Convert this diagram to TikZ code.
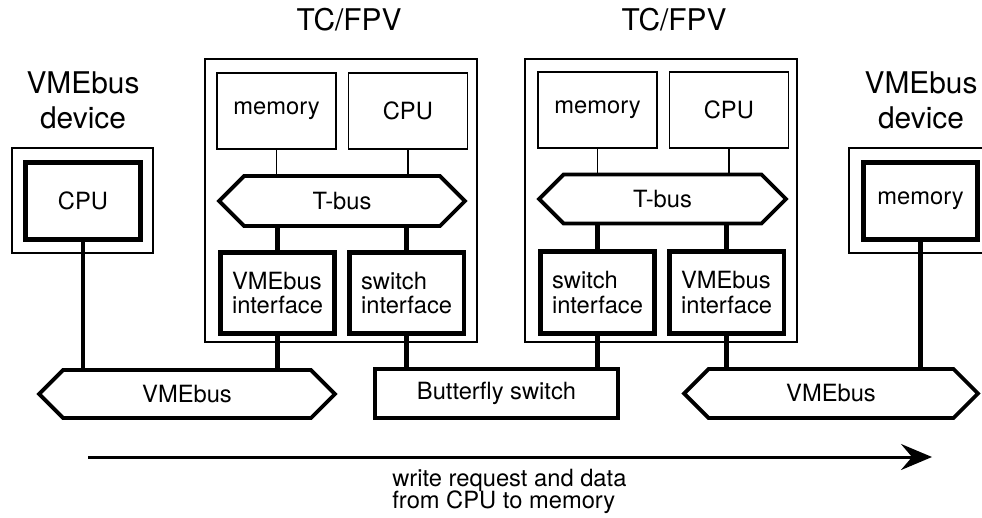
\documentclass[tikz,border=0pt]{standalone}
\usepackage{fontspec}
\setmainfont{TeX Gyre Heros}
\usetikzlibrary{arrows.meta, positioning, shapes.symbols}
\newcommand\headfont{\fontsize{17}{19.9}\selectfont}
\newcommand\lblfont{\fontsize{13.5}{14}\selectfont}
\newcommand\flowfont{\fontsize{13.5}{12.5}\selectfont\lineskiplimit=-5pt\relax}

\begin{document}
\begin{tikzpicture}[
    x=0.02cm, y=-0.02cm,
    box/.style={rectangle, draw, line width=0.8pt, minimum width=2.38cm,
                minimum height=1.52cm, inner sep=0pt, font=\lblfont},
    ifbox/.style={box, line width=2.6pt, minimum width=2.29cm,
                  minimum height=1.63cm, align=left},
    tcframe/.style={rectangle, draw, line width=1pt, inner sep=0pt},
    bus/.style={signal, signal to=east and west, signal pointer angle=90,
                draw, line width=2.2pt, inner sep=0pt, font=\lblfont},
    heading/.style={font=\headfont, align=center, inner sep=0pt},
    link/.style={line width=0.9pt},
    thicklink/.style={line width=2.4pt},
    flow/.style={-{Stealth[length=0.62cm, width=0.52cm, inset=0.22cm]}, line width=1.7pt}
  ]
    \useasboundingbox (0,0) rectangle (982,517);

    % headings
    \node[heading] (tchead1) at (349,20) {TC/FPV};
    \node[heading] (tchead2) at (674,20) {TC/FPV};
    \node[heading] (devhead1) at (83,100) {VMEbus\\device};
    \node[heading] (devhead2) at (921,100) {VMEbus\\device};

    % VMEbus devices
    \node[tcframe, minimum width=2.82cm, minimum height=2.1cm] (devframe1) at (82.5,200.5) {};
    \node[ifbox, minimum width=2.3cm, minimum height=1.54cm, align=center] (devcpu) at (83,201) {CPU};
    \node[tcframe, minimum width=2.86cm, minimum height=2.1cm] (devframe2) at (920.5,200.5) {};
    \node[ifbox, minimum width=2.28cm, minimum height=1.54cm, align=center] (devmem) at (920.5,201) {memory};

    % first TC/FPV
    \node[tcframe, minimum width=5.44cm, minimum height=5.66cm] (tc1) at (341,200.5) {};
    \node[box] (mem1) at (276.5,111) {memory};
    \node[box, right=0.22cm of mem1] (cpu1) {CPU};
    \node[bus, minimum width=4.92cm, minimum height=1.0cm] (tbus1) at (342,201) {T-bus};
    \node[ifbox] (vmeif1) at (277.5,293) {VMEbus\\interface};
    \node[ifbox, right=0.2cm of vmeif1] (swif1) {switch\\interface};

    % second TC/FPV
    \node[tcframe, minimum width=5.44cm, minimum height=5.66cm] (tc2) at (661,200.5) {};
    \node[box] (mem2) at (597.5,110) {memory};
    \node[box, right=0.22cm of mem2] (cpu2) {CPU};
    \node[bus, minimum width=4.94cm, minimum height=0.98cm] (tbus2) at (662.5,199) {T-bus};
    \node[ifbox] (swif2) at (597.5,292.5) {switch\\interface};
    \node[ifbox, right=0.2cm of swif2] (vmeif2) {VMEbus\\interface};

    % buses and switch
    \node[bus, minimum width=5.92cm, minimum height=0.96cm] (vme1) at (187,394) {VMEbus};
    \node[box, line width=2.2pt, minimum width=4.86cm, minimum height=0.98cm] (bfly) at (496.5,393.5) {Butterfly switch};
    \node[bus, minimum width=5.88cm, minimum height=0.98cm] (vme2) at (831,393.5) {VMEbus};

    % connections
    \draw[link] (mem1.south) -- (mem1.south |- tbus1.north);
    \draw[link] (cpu1.south) -- (cpu1.south |- tbus1.north);
    \draw[link] (mem2.south) -- (mem2.south |- tbus2.north);
    \draw[link] (cpu2.south) -- (cpu2.south |- tbus2.north);
    \draw[thicklink] (vmeif1.north |- tbus1.south) -- (vmeif1.north);
    \draw[thicklink] (swif1.north |- tbus1.south) -- (swif1.north);
    \draw[thicklink] (swif2.north |- tbus2.south) -- (swif2.north);
    \draw[thicklink] (vmeif2.north |- tbus2.south) -- (vmeif2.north);
    \draw[thicklink] (devcpu.south) -- (devcpu.south |- vme1.north);
    \draw[thicklink] (vmeif1.south) -- (vmeif1.south |- vme1.north);
    \draw[thicklink] (swif1.south) -- (swif1.south |- bfly.north);
    \draw[thicklink] (swif2.south) -- (swif2.south |- bfly.north);
    \draw[thicklink] (vmeif2.south) -- (vmeif2.south |- vme2.north);
    \draw[thicklink] (devmem.south) -- (devmem.south |- vme2.north);

    % direction of the write
    \coordinate (flowstart) at (88,457);
    \coordinate (flowend) at (932,457);
    \draw[flow] (flowstart) -- (flowend);
    \node[anchor=west, align=left, inner sep=0pt, font=\flowfont] (flowlabel) at (392,491)
      {write request and data\\from CPU to memory};
  \end{tikzpicture}
\end{document}
